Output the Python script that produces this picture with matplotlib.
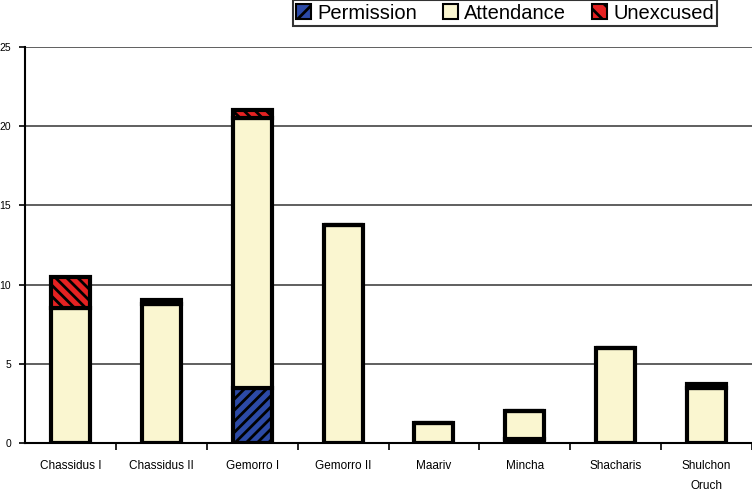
import numpy as np
import matplotlib
matplotlib.use("Agg")
import matplotlib.pyplot as plt
from matplotlib.patches import Patch

plt.rcParams['font.family'] = ['Liberation Sans', 'DejaVu Sans']
plt.rcParams['hatch.linewidth'] = 2.0

categories = ["Chassidus I", "Chassidus II", "Gemorro I", "Gemorro II",
              "Maariv", "Mincha", "Shacharis", "Shulchon\nOruch"]
permission = [0, 0, 3.5, 0, 0, 0.25, 0, 0]
attendance = [8.5, 8.75, 17, 13.75, 1.25, 1.75, 6, 3.5]
unexcused = [2, 0.25, 0.5, 0, 0, 0, 0, 0.25]
y_ticks = [0, 5, 10, 15, 20, 25]

col_perm = "#2c4aa6"
col_att = "#faf6d0"
col_unex = "#e52222"

fig = plt.figure(figsize=(7.52, 4.97), dpi=100)
ax = fig.add_axes([25 / 752, 54 / 497, 727 / 752, 396 / 497])

x = np.arange(len(categories))
perm = np.array(permission)
att = np.array(attendance)
unex = np.array(unexcused)
w = 0.43

ax.bar(x, perm, w, color=col_perm, edgecolor="black", linewidth=3,
       hatch="///", zorder=3)
ax.bar(x, att, w, bottom=perm, color=col_att, edgecolor="black",
       linewidth=3, zorder=3)
ax.bar(x, unex, w, bottom=perm + att, color=col_unex, edgecolor="black",
       linewidth=3, hatch="\\\\\\", zorder=3)

ax.set_xlim(-0.5, len(categories) - 0.5)
ax.set_ylim(0, 25)
ax.set_yticks(y_ticks)
ax.tick_params(axis='y', labelsize=7.5, length=4, width=1.2, pad=6)
ax.yaxis.grid(True, color="#444444", linewidth=1.2, zorder=0)
ax.set_axisbelow(True)

# category labels centered, ticks between categories
ax.set_xticks(x)
ax.set_xticklabels(categories, fontsize=8.5, linespacing=1.9)
ax.tick_params(axis='x', length=0, pad=12)
ax.set_xticks(np.arange(len(categories)) + 0.5, minor=True)
ax.tick_params(axis='x', which='minor', length=5, width=1.2)

for side in ["top", "right"]:
    ax.spines[side].set_visible(False)
ax.spines["left"].set_linewidth(1.5)
ax.spines["bottom"].set_linewidth(1.5)

handles = [
    Patch(facecolor=col_perm, edgecolor="black", hatch="//", linewidth=1.5),
    Patch(facecolor=col_att, edgecolor="black", linewidth=1.5),
    Patch(facecolor=col_unex, edgecolor="black", hatch="\\\\", linewidth=1.5),
]
leg = fig.legend(handles, ["Permission", "Attendance", "Unexcused"],
                 loc="upper center", bbox_to_anchor=(505 / 752, 0.999), ncol=3,
                 fontsize=14.5, frameon=True, fancybox=False, edgecolor="black",
                 handlelength=0.75, handleheight=0.75, handletextpad=0.3,
                 columnspacing=1.3, borderpad=0.15, borderaxespad=0)
leg.get_frame().set_linewidth(1.5)

fig.savefig("out.png", dpi=100, facecolor="white")
